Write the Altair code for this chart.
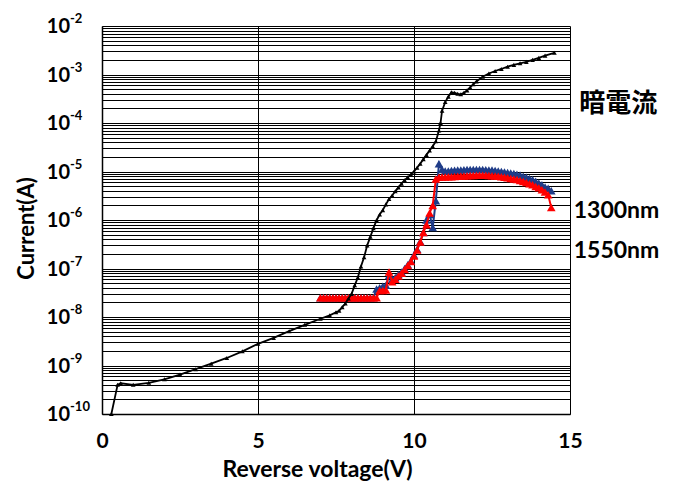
import altair as alt
import pandas as pd

# ---- data ----
dark_v = [0.3, 0.5, 0.6, 1.0, 1.5, 2.0, 2.5, 3.0, 3.5, 4.0, 4.5, 5.0, 5.5, 6.0, 6.5,
          7.0, 7.3, 7.5, 7.6, 7.7, 7.8, 7.9, 8.0, 8.1, 8.2, 8.3, 8.4, 8.5, 8.6, 8.7,
          8.8, 8.9, 9.0, 9.1, 9.2, 9.3, 9.4, 9.5, 9.6, 9.7, 9.8, 9.9, 10.0, 10.1, 10.2,
          10.3, 10.4, 10.5, 10.6, 10.7, 10.8, 10.85, 10.9, 11.0, 11.1, 11.2, 11.3, 11.4,
          11.5, 11.6, 11.7, 11.8, 11.9, 12.0, 12.2, 12.4, 12.6, 12.8, 13.0, 13.2, 13.4,
          13.6, 13.8, 14.0, 14.2, 14.5]
dark_i = [1.0e-10, 4.0e-10, 4.3e-10, 4.0e-10, 4.4e-10, 5.2e-10, 6.5e-10, 8.4e-10, 1.09e-9,
          1.43e-9, 1.96e-9, 2.8e-9, 3.7e-9, 5.1e-9, 6.9e-9, 9.2e-9, 1.08e-8, 1.25e-8,
          1.35e-8, 1.6e-8, 1.9e-8, 2.4e-8, 3.0e-8, 4.5e-8, 6.5e-8, 1.1e-7, 1.7e-7, 3.0e-7,
          4.5e-7, 6.8e-7, 9.9e-7, 1.3e-6, 1.6e-6, 2.1e-6, 2.7e-6, 3.2e-6, 3.9e-6, 4.7e-6,
          5.6e-6, 6.6e-6, 7.6e-6, 8.7e-6, 1.0e-5, 1.2e-5, 1.45e-5, 1.8e-5, 2.2e-5, 2.7e-5,
          3.3e-5, 4.2e-5, 7.0e-5, 1.0e-4, 1.8e-4, 2.7e-4, 3.5e-4, 4.3e-4, 4.2e-4, 4.0e-4,
          3.9e-4, 4.2e-4, 4.7e-4, 5.4e-4, 6.3e-4, 7.2e-4, 9.0e-4, 1.05e-3, 1.18e-3, 1.3e-3,
          1.45e-3, 1.58e-3, 1.7e-3, 1.82e-3, 2.0e-3, 2.2e-3, 2.45e-3, 2.8e-3]

photo_v = [7.0, 7.1, 7.2, 7.3, 7.4, 7.5, 7.6, 7.7, 7.8, 7.9,
           8.0, 8.1, 8.2, 8.3, 8.4, 8.5, 8.6, 8.7, 8.8, 8.9,
           9.0, 9.1, 9.2, 9.3, 9.4, 9.5, 9.6, 9.7, 9.8, 9.9,
           10.0, 10.1, 10.2, 10.3, 10.4, 10.5, 10.6, 10.7, 10.8, 10.9,
           11.0, 11.1, 11.2, 11.3, 11.4, 11.5, 11.6, 11.7, 11.8, 11.9,
           12.0, 12.1, 12.2, 12.3, 12.4, 12.5, 12.6, 12.7, 12.8, 12.9,
           13.0, 13.1, 13.2, 13.3, 13.4, 13.5, 13.6, 13.7, 13.8, 13.9,
           14.0, 14.1, 14.2, 14.3, 14.4]
i1300 = [2.5e-8, 2.5e-8, 2.5e-8, 2.5e-8, 2.5e-8, 2.5e-8, 2.5e-8, 2.5e-8, 2.5e-8, 2.5e-8,
         2.5e-8, 2.5e-8, 2.5e-8, 2.5e-8, 2.5e-8, 2.5e-8, 2.5e-8, 2.5e-8, 3.8e-8, 4.0e-8,
         4.3e-8, 4.5e-8, 7.2e-8, 6.0e-8, 6.5e-8, 7.5e-8, 8.5e-8, 1.0e-7, 1.2e-7, 1.45e-7,
         1.9e-7, 2.5e-7, 3.6e-7, 5.5e-7, 1.0e-6, 1.3e-6, 7.0e-7, 2.5e-6, 1.45e-5, 1.1e-5,
         1.02e-5, 1.03e-5, 1.05e-5, 1.06e-5, 1.07e-5, 1.08e-5, 1.09e-5, 1.1e-5, 1.1e-5, 1.1e-5,
         1.1e-5, 1.1e-5, 1.1e-5, 1.09e-5, 1.08e-5, 1.07e-5, 1.05e-5, 1.03e-5, 1.0e-5, 9.8e-6,
         9.5e-6, 9.3e-6, 9.1e-6, 8.8e-6, 8.5e-6, 8.0e-6, 7.6e-6, 7.2e-6, 6.8e-6, 6.3e-6,
         5.8e-6, 5.3e-6, 4.8e-6, 4.5e-6, 4.0e-6]
i1550 = [2.5e-8, 2.5e-8, 2.5e-8, 2.5e-8, 2.5e-8, 2.5e-8, 2.5e-8, 2.5e-8, 2.5e-8, 2.5e-8,
         2.5e-8, 2.5e-8, 2.5e-8, 2.5e-8, 2.5e-8, 2.5e-8, 2.5e-8, 2.5e-8, 2.5e-8, 3.5e-8,
         3.5e-8, 3.6e-8, 8.5e-8, 5.3e-8, 6.0e-8, 7.0e-8, 8.0e-8, 9.5e-8, 1.15e-7, 1.4e-7,
         1.8e-7, 2.4e-7, 3.5e-7, 5.5e-7, 8.0e-7, 1.4e-6, 2.0e-6, 7.0e-6, 7.6e-6, 7.7e-6,
         7.7e-6, 7.8e-6, 7.8e-6, 7.9e-6, 8.0e-6, 8.1e-6, 8.1e-6, 8.2e-6, 8.3e-6, 8.3e-6,
         8.4e-6, 8.4e-6, 8.4e-6, 8.4e-6, 8.3e-6, 8.2e-6, 8.1e-6, 8.0e-6, 7.8e-6, 7.6e-6,
         7.4e-6, 7.2e-6, 7.0e-6, 6.8e-6, 6.5e-6, 6.2e-6, 5.9e-6, 5.6e-6, 5.3e-6, 4.9e-6,
         4.6e-6, 4.2e-6, 3.8e-6, 3.3e-6, 1.8e-6]

x_ticks = [0, 5, 10, 15]
decade_values = [1e-10, 1e-9, 1e-8, 1e-7, 1e-6, 1e-5, 1e-4, 1e-3, 1e-2]
decade_exponents = ["-10", "-9", "-8", "-7", "-6", "-5", "-4", "-3", "-2"]

series_labels = ["暗電流", "1300nm", "1550nm"]
series_label_v = [15.3, 15.12, 15.12]
series_label_i = [2.5e-4, 1.53e-6, 2.3e-7]

# ---- tables ----
dark_df = pd.DataFrame({"v": dark_v, "i": dark_i})
df1300 = pd.DataFrame({"v": photo_v, "i": i1300})
df1550 = pd.DataFrame({"v": photo_v, "i": i1550})
dec_df = pd.DataFrame({"i": decade_values, "exp": decade_exponents})
lab_df = pd.DataFrame({"v": series_label_v, "i": series_label_i, "t": series_labels})

grid_values = [m * d for d in decade_values[:-1] for m in range(1, 10)] + [1e-2]

FONT = "Lato"
xscale = alt.Scale(domain=[0, 15], nice=False, zero=False)
yscale = alt.Scale(type="log", domain=[1e-10, 1e-2], nice=False)

xaxis = alt.Axis(values=x_ticks, grid=True, ticks=False, labelFont=FONT, labelFontSize=21,
                 labelFontWeight="bold", labelColor="black", labelPadding=16,
                 title="Reverse voltage(V)", titleFont=FONT, titleFontSize=23,
                 titleFontWeight="bold", titleColor="black", titlePadding=7,
                 titleX=215, labelFlush=False)
yaxis = alt.Axis(values=grid_values, grid=True, ticks=False, labels=False,
                 title="Current(A)", titleFont=FONT, titleFontSize=22,
                 titleFontWeight="bold", titleColor="black", titlePadding=64, titleY=202)


def X(field="v"):
    return alt.X(f"{field}:Q", scale=xscale, axis=xaxis)


def Y(field="i"):
    return alt.Y(f"{field}:Q", scale=yscale, axis=yaxis)


line1300 = alt.Chart(df1300).mark_line(
    color="#1F3C88", strokeWidth=2,
    point=alt.OverlayMarkDef(shape="triangle-up", size=75, filled=True, color="#1F3C88", opacity=1),
).encode(x=X(), y=Y())

line1550 = alt.Chart(df1550).mark_line(
    color="#FF0000", strokeWidth=2,
    point=alt.OverlayMarkDef(shape="triangle-up", size=75, filled=True, color="#FF0000", opacity=1),
).encode(x=X(), y=Y())

dark = alt.Chart(dark_df).mark_line(
    color="black", strokeWidth=1.8,
    point=alt.OverlayMarkDef(shape="triangle-up", size=22, filled=True, color="black", opacity=1),
).encode(x=X(), y=Y())

tick_base = alt.Chart(dec_df).mark_text(
    text="10", font=FONT, fontSize=20, fontWeight="bold", color="black",
    align="right", baseline="middle", dy=1,
).encode(x=alt.value(-32), y=Y())

tick_exp = alt.Chart(dec_df).mark_text(
    font=FONT, fontSize=13, fontWeight="bold", color="black",
    align="left", baseline="middle", dy=-7,
).encode(x=alt.value(-32), y=Y(), text="exp:N")

labels_cjk = alt.Chart(lab_df.iloc[[0]]).mark_text(
    font="Noto Sans CJK JP", fontSize=26, fontWeight="bold", color="black",
    align="left", baseline="middle",
).encode(x=X(), y=Y(), text="t:N")

labels_nm = alt.Chart(lab_df.iloc[1:]).mark_text(
    font=FONT, fontSize=23, fontWeight="bold", color="black",
    align="left", baseline="middle",
).encode(x=X(), y=Y(), text="t:N")

chart = alt.layer(
    line1300, line1550, dark, tick_base, tick_exp, labels_cjk, labels_nm
).properties(
    width=468, height=388,
    padding={"left": 7, "top": 5, "right": 5, "bottom": 5},
).configure_axis(
    domainColor="black", domainWidth=1.5, gridColor="black", gridOpacity=1, gridWidth=1,
).configure_view(
    stroke=None
)

chart.save("out.html", embed_options={"renderer": "svg", "actions": False})
